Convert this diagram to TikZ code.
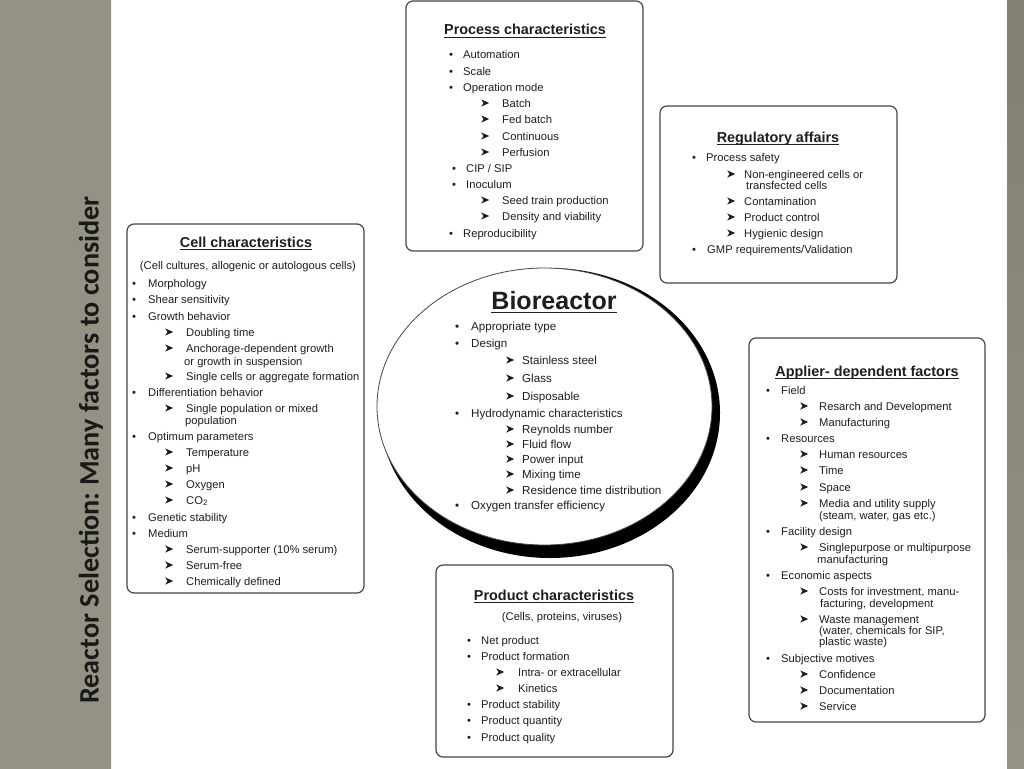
\documentclass[tikz,border=0pt]{standalone}
\usepackage{fontspec}
\setmainfont{Liberation Sans}
\newfontfamily\headfont{Carlito}
\usetikzlibrary{shapes.geometric}
\frenchspacing
\definecolor{panelgrey}{RGB}{192,190,176}
\definecolor{paneldark}{RGB}{148,146,132}
\definecolor{stripgrey}{RGB}{130,128,114}
\definecolor{boxgrey}{RGB}{70,70,70}
\definecolor{inkgrey}{RGB}{30,30,30}
\newcommand{\arrowmark}{\tikz[baseline=0pt,x=1pt,y=1pt]\fill[inkgrey] (0,0.4)--(8,4)--(0,7.6)--(2.3,4)--cycle;}
\tikzset{
  factorbox/.style={draw=boxgrey, line width=1.2pt, rounded corners=7pt, inner sep=0pt, fill=white},
  itemtext/.style={anchor=base west, inner sep=0pt, text=inkgrey, font=\fontsize{11.2}{13}\selectfont},
  bigitem/.style={itemtext, font=\fontsize{11.6}{13}\selectfont},
  boxtitle/.style={anchor=base, inner sep=0pt, text=inkgrey, font=\bfseries\fontsize{14.4}{16}\selectfont},
  titlerule/.style={draw=inkgrey, line width=1.1pt},
}
\begin{document}
\begin{tikzpicture}[x=1pt,y=-1pt]
\useasboundingbox (0,0) rectangle (1024,768);
% background and side panels
\fill[white] (0,0) rectangle (1024,768);
\shade[top color=paneldark, middle color=panelgrey, bottom color=paneldark] (0,0) rectangle (111,768);
\shade[top color=stripgrey, bottom color=stripgrey!70!panelgrey] (1007,0) rectangle (1024,768);
\node[rotate=90, inner sep=0pt, text=black!90, font=\headfont\bfseries\fontsize{28.2}{32}\selectfont] (heading) at (91,450) {Reactor Selection: Many factors to consider};

% Process characteristics
\node[factorbox, minimum width=237pt, minimum height=250pt] (process) at (524.5,126) {};
\node[boxtitle] (ptitle) at (525,35) {Process characteristics};
\draw[titlerule] ([yshift=-2.5pt]ptitle.base west) -- ([yshift=-2.5pt]ptitle.base east);
\foreach \y/\t in {59/Automation,75/Scale,91/Operation mode,237/Reproducibility}{
  \node[itemtext] (pb\y) at (449,\y) {•};
  \node[itemtext] (pt\y) at (463,\y) {\t};
}
\foreach \y/\t in {172/{CIP / SIP},188/Inoculum}{
  \node[itemtext] (pb\y) at (452,\y) {•};
  \node[itemtext] (pt\y) at (466,\y) {\t};
}
\foreach \y/\t in {107/Batch,123/Fed batch,140/Continuous,156/Perfusion,204/Seed train production,220/Density and viability}{
  \node[itemtext] (pa\y) at (481,\y) {\arrowmark};
  \node[itemtext] (ps\y) at (502,\y) {\t};
}

% Regulatory affairs
\node[factorbox, minimum width=237pt, minimum height=177pt] (regulatory) at (778.5,194.5) {};
\node[boxtitle] (rtitle) at (778,142) {Regulatory affairs};
\draw[titlerule] ([yshift=-2.5pt]rtitle.base west) -- ([yshift=-2.5pt]rtitle.base east);
\node[itemtext] (rb161) at (692,161) {•};
\node[itemtext] (rt161) at (706,161) {Process safety};
\node[itemtext] (rb253) at (692,253) {•};
\node[itemtext] (rt253) at (707,253) {GMP requirements/Validation};
\foreach \y/\t in {178/Non-engineered cells or,205/Contamination,221/Product control,237/Hygienic design}{
  \node[itemtext] (ra\y) at (727,\y) {\arrowmark};
  \node[itemtext] (rs\y) at (744,\y) {\t};
}
\node[itemtext] (rs189) at (746,189) {transfected cells};

% Cell characteristics
\node[factorbox, minimum width=237pt, minimum height=369pt] (cell) at (245.5,408.5) {};
\node[boxtitle] (ctitle) at (246,247) {Cell characteristics};
\draw[titlerule] ([yshift=-2.5pt]ctitle.base west) -- ([yshift=-2.5pt]ctitle.base east);
\node[itemtext, anchor=base] (csub) at (248,269) {(Cell cultures, allogenic or autologous cells)};
\foreach \y/\t in {287/Morphology,303/Shear sensitivity,320/Growth behavior,396/Differentiation behavior,440/Optimum parameters,521/Genetic stability,537/Medium}{
  \node[itemtext] (cb\y) at (132,\y) {•};
  \node[itemtext] (ct\y) at (148,\y) {\t};
}
\foreach \y/\t in {336/Doubling time,352/Anchorage-dependent growth,380/Single cells or aggregate formation,412/Single population or mixed,456/Temperature,472/pH,488/Oxygen,504/CO\textsubscript{2},553/Serum-supporter (10\% serum),569/Serum-free,585/Chemically defined}{
  \node[itemtext] (ca\y) at (165,\y) {\arrowmark};
  \node[itemtext] (cs\y) at (186,\y) {\t};
}
\node[itemtext] (cs365) at (184,365) {or growth in suspension};
\node[itemtext] (cs424) at (185,424) {population};

% Bioreactor
\fill[black] (550,413) ellipse [x radius=170, y radius=145];
\draw[boxgrey, line width=0.8pt, fill=white] (544.5,406.5) ellipse [x radius=167.5, y radius=138.5];
\node[boxtitle, font=\bfseries\fontsize{25}{28}\selectfont] (btitle) at (554,309) {Bioreactor};
\draw[titlerule, line width=1.8pt] ([yshift=-3.5pt]btitle.base west) -- ([yshift=-3.5pt]btitle.base east);
\foreach \y/\t in {330/Appropriate type,347/Design,417/Hydrodynamic characteristics,509/Oxygen transfer efficiency}{
  \node[bigitem] (bb\y) at (455,\y) {•};
  \node[bigitem] (bt\y) at (471,\y) {\t};
}
\foreach \y/\t in {364/Stainless steel,382/Glass,400/Disposable,433/Reynolds number,448/Fluid flow,463/Power input,478/Mixing time,494/Residence time distribution}{
  \node[bigitem] (ba\y) at (506,\y) {\arrowmark};
  \node[bigitem] (bs\y) at (522,\y) {\t};
}

% Applier- dependent factors
\node[factorbox, minimum width=236pt, minimum height=384pt] (applier) at (867,530) {};
\node[boxtitle] (atitle) at (867,376) {Applier- dependent factors};
\draw[titlerule] ([yshift=-2.5pt]atitle.base west) -- ([yshift=-2.5pt]atitle.base east);
\foreach \y/\t in {394/Field,442/Resources,535/Facility design,579/Economic aspects,662/Subjective motives}{
  \node[itemtext] (ab\y) at (766,\y) {•};
  \node[itemtext] (at\y) at (781,\y) {\t};
}
\foreach \y/\t in {410/Resarch and Development,426/Manufacturing,458/Human resources,474/Time,491/Space,507/Media and utility supply,551/Singlepurpose or multipurpose,595/{Costs for investment, manu-},623/Waste management,678/Confidence,694/Documentation,710/Service}{
  \node[itemtext] (aa\y) at (800,\y) {\arrowmark};
  \node[itemtext] (as\y) at (819,\y) {\t};
}
\node[itemtext] (as519) at (819,519) {(steam, water, gas etc.)};
\node[itemtext] (as563) at (817,563) {manufacturing};
\node[itemtext] (as607) at (820,607) {facturing, development};
\node[itemtext] (as634) at (819,634) {(water, chemicals for SIP,};
\node[itemtext] (as645) at (819,645) {plastic waste)};

% Product characteristics
\node[factorbox, minimum width=237pt, minimum height=192pt] (product) at (554.5,661) {};
\node[boxtitle] (qtitle) at (554,600) {Product characteristics};
\draw[titlerule] ([yshift=-2.5pt]qtitle.base west) -- ([yshift=-2.5pt]qtitle.base east);
\node[itemtext, anchor=base] (qsub) at (562,620) {(Cells, proteins, viruses)};
\foreach \y/\t in {644/Net product,660/Product formation,708/Product stability,724/Product quantity,741/Product quality}{
  \node[itemtext] (qb\y) at (467,\y) {•};
  \node[itemtext] (qt\y) at (481,\y) {\t};
}
\foreach \y/\t in {676/Intra- or extracellular,692/Kinetics}{
  \node[itemtext] (qa\y) at (496,\y) {\arrowmark};
  \node[itemtext] (qs\y) at (518,\y) {\t};
}
\end{tikzpicture}
\end{document}
